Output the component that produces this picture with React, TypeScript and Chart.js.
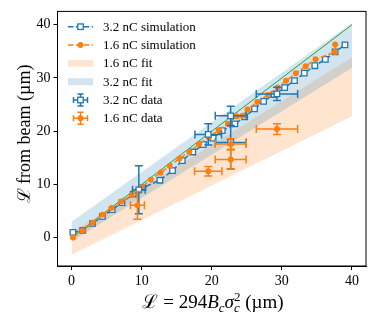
import React, { useEffect, useRef } from 'react';
import { Chart, registerables } from 'chart.js';
Chart.register(...registerables);

// ---- data ----
const xTicks = [0, 10, 20, 30, 40];
const yTicks = [0, 10, 20, 30, 40];

const fitX = [0, 40];
const fit16Low = [-3.2, 22.8];
const fit16High = [1.0, 33.9];
const fit32Low = [-0.7, 31.9];
const fit32High = [3.0, 40.3];

const identityX = [0, 40];
const identityY = [0, 40];

const sim32X = [0.2, 1.6, 3.0, 4.4, 5.8, 7.2, 8.8, 10.2, 12.6, 14.4, 15.8, 17.3, 18.8, 20.2, 21.5, 23.3, 24.7, 26.1, 27.4, 28.9, 30.4, 31.8, 33.2, 34.7, 36.2, 37.6, 39.0];
const sim32Y = [1.0, 1.4, 2.7, 4.0, 5.3, 6.6, 8.2, 9.4, 10.8, 12.6, 14.5, 16.1, 17.5, 18.7, 20.1, 21.4, 22.7, 24.2, 25.6, 26.9, 28.2, 29.5, 30.9, 32.3, 33.5, 34.9, 36.2];

const sim16X = [0.2, 1.6, 3.0, 4.4, 5.7, 7.1, 8.6, 10.0, 11.3, 12.7, 14.0, 15.4, 16.8, 18.2, 19.6, 21.0, 22.3, 23.6, 24.4, 25.1, 26.5, 28.0, 29.4, 30.6, 32.0, 33.4, 34.8, 37.6, 37.6];
const sim16Y = [0.05, 1.35, 2.8, 4.3, 5.6, 6.8, 8.0, 9.5, 10.9, 12.2, 13.5, 14.9, 16.1, 17.6, 18.9, 20.2, 21.4, 22.8, 22.9, 24.1, 25.5, 26.8, 28.2, 29.5, 30.9, 32.2, 33.5, 34.9, 36.3];

const data32X = [9.6, 19.5, 22.7, 22.7, 29.3];
const data32Y = [9.0, 19.4, 22.9, 17.9, 27.0];
const data32XErr = [0.9, 1.9, 2.2, 2.2, 2.95];
const data32YErr = [4.5, 2.0, 1.8, 5.0, 1.25];

const data16X = [9.4, 19.5, 22.7, 22.7, 29.3];
const data16Y = [6.1, 12.5, 17.6, 14.7, 20.4];
const data16XErr = [1.0, 1.95, 2.2, 2.2, 2.95];
const data16YErr = [2.6, 0.9, 1.0, 1.8, 1.0];

const legendLabels = ['3.2 nC simulation', '1.6 nC simulation', '1.6 nC fit', '3.2 nC fit', '3.2 nC data', '1.6 nC data'];

const BLUE = '#1f77b4';
const ORANGE = '#ff7f0e';
const GREEN = '#2ca02c';
const BLUE_FILL = 'rgba(31,119,180,0.2)';
const ORANGE_FILL = 'rgba(255,127,14,0.2)';
const FONT = '"Liberation Serif", "DejaVu Serif", serif';

const pts = (xs: number[], ys: number[]) => xs.map((x, i) => ({ x, y: ys[i] }));

function drawSquare(ctx: CanvasRenderingContext2D, x: number, y: number, s: number, color: string) {
  ctx.fillStyle = '#fff';
  ctx.strokeStyle = color;
  ctx.lineWidth = 1.3;
  ctx.fillRect(x - s / 2, y - s / 2, s, s);
  ctx.strokeRect(x - s / 2, y - s / 2, s, s);
}
function drawDot(ctx: CanvasRenderingContext2D, x: number, y: number, r: number, color: string) {
  ctx.fillStyle = color;
  ctx.beginPath();
  ctx.arc(x, y, r, 0, Math.PI * 2);
  ctx.fill();
}
function drawErr(ctx: CanvasRenderingContext2D, x0: number, x1: number, y: number, y0: number, y1: number, x: number, color: string, cap: number) {
  ctx.strokeStyle = color;
  ctx.lineWidth = 1.5;
  ctx.beginPath();
  ctx.moveTo(x0, y); ctx.lineTo(x1, y);
  ctx.moveTo(x0, y - cap); ctx.lineTo(x0, y + cap);
  ctx.moveTo(x1, y - cap); ctx.lineTo(x1, y + cap);
  ctx.moveTo(x, y0); ctx.lineTo(x, y1);
  ctx.moveTo(x - cap, y0); ctx.lineTo(x + cap, y0);
  ctx.moveTo(x - cap, y1); ctx.lineTo(x + cap, y1);
  ctx.stroke();
}

const errorBarPlugin = {
  id: 'errorBars',
  beforeDatasetDraw(chart: any, args: any) {
    const ds = chart.data.datasets[args.index];
    if (!ds.errX) return;
    const ctx = chart.ctx as CanvasRenderingContext2D;
    const xs = chart.scales.x, ys = chart.scales.y;
    ctx.save();
    ds.data.forEach((p: any, i: number) => {
      const px = xs.getPixelForValue(p.x);
      const py = ys.getPixelForValue(p.y);
      drawErr(
        ctx,
        xs.getPixelForValue(p.x - ds.errX[i]),
        xs.getPixelForValue(p.x + ds.errX[i]),
        py,
        ys.getPixelForValue(p.y + ds.errY[i]),
        ys.getPixelForValue(p.y - ds.errY[i]),
        px,
        ds.borderColor,
        4
      );
    });
    ctx.restore();
  },
};

const decorPlugin = {
  id: 'decor',
  afterDraw(chart: any) {
    const ctx = chart.ctx as CanvasRenderingContext2D;
    const a = chart.chartArea;
    ctx.save();
    // frame
    ctx.strokeStyle = '#000';
    ctx.lineWidth = 1;
    ctx.strokeRect(a.left, a.top, a.right - a.left, a.bottom - a.top);

    // y title
    ctx.save();
    ctx.translate(30, 134);
    ctx.rotate(-Math.PI / 2);
    ctx.fillStyle = '#000';
    ctx.font = `18px ${FONT}`;
    ctx.textAlign = 'center';
    ctx.textBaseline = 'alphabetic';
    ctx.fillText('\u2112 from beam (\u00b5m)', 0, 0);
    ctx.restore();

    // x title
    const size = 19, small = 13;
    type Piece = { t: string; f: string; dy: number; adv: boolean };
    const pieces: Piece[] = [
      { t: '\u2112 = 294', f: `${size}px ${FONT}`, dy: 0, adv: true },
      { t: 'B', f: `italic ${size}px ${FONT}`, dy: 0, adv: true },
      { t: 'c', f: `italic ${small}px ${FONT}`, dy: 4, adv: true },
      { t: '\u03c3', f: `italic ${size}px ${FONT}`, dy: 0, adv: true },
      { t: 'c', f: `italic ${small}px ${FONT}`, dy: 4, adv: false },
      { t: '2', f: `${small}px ${FONT}`, dy: -7, adv: true },
      { t: ' (\u00b5m)', f: `${size}px ${FONT}`, dy: 0, adv: true },
    ];
    let total = 0;
    let pending = 0;
    const widths = pieces.map((p) => { ctx.font = p.f; return ctx.measureText(p.t).width; });
    pieces.forEach((p, i) => {
      if (p.adv) { total += Math.max(widths[i], pending); pending = 0; } else { pending = widths[i]; }
    });
    let x = 213 - total / 2;
    const base = 307.5;
    ctx.fillStyle = '#000';
    ctx.textAlign = 'left';
    ctx.textBaseline = 'alphabetic';
    pending = 0;
    pieces.forEach((p, i) => {
      ctx.font = p.f;
      ctx.fillText(p.t, x, base + p.dy);
      if (p.adv) { x += Math.max(widths[i], pending); pending = 0; } else { pending = widths[i]; }
    });

    // legend
    const rows = [26.7, 45, 63.3, 81.7, 100, 118.3];
    const hx0 = 68, hx1 = 93, hc = 80.5, tx = 103;
    ctx.lineWidth = 1.5;
    ctx.setLineDash([5.5, 2.4]);
    ctx.strokeStyle = BLUE;
    ctx.beginPath(); ctx.moveTo(hx0, rows[0]); ctx.lineTo(hx1, rows[0]); ctx.stroke();
    ctx.strokeStyle = ORANGE;
    ctx.beginPath(); ctx.moveTo(hx0, rows[1]); ctx.lineTo(hx1, rows[1]); ctx.stroke();
    ctx.setLineDash([]);
    drawSquare(ctx, hc, rows[0], 5.5, BLUE);
    drawDot(ctx, hc, rows[1], 3, ORANGE);
    ctx.fillStyle = ORANGE_FILL;
    ctx.fillRect(hx0, rows[2] - 3.5, hx1 - hx0, 7);
    ctx.fillStyle = BLUE_FILL;
    ctx.fillRect(hx0, rows[3] - 3.5, hx1 - hx0, 7);
    drawErr(ctx, hc - 7, hc + 7, rows[4], rows[4] - 6, rows[4] + 6, hc, BLUE, 3);
    drawSquare(ctx, hc, rows[4], 5.5, BLUE);
    drawErr(ctx, hc - 7, hc + 7, rows[5], rows[5] - 6, rows[5] + 6, hc, ORANGE, 3);
    drawDot(ctx, hc, rows[5], 3, ORANGE);
    ctx.fillStyle = '#000';
    ctx.font = `13px ${FONT}`;
    ctx.textAlign = 'left';
    ctx.textBaseline = 'middle';
    legendLabels.forEach((l, i) => ctx.fillText(l, tx, rows[i] + 0.5));
    ctx.restore();
  },
};

export default function App() {
  const ref = useRef<HTMLCanvasElement>(null);
  useEffect(() => {
    const canvas = ref.current!;
    const hidden = { showLine: true, borderWidth: 0, borderColor: 'rgba(0,0,0,0)', pointRadius: 0 };
    const chart = new Chart(canvas, {
      type: 'scatter',
      data: {
        datasets: [
          { ...hidden, data: pts(fitX, fit16Low), fill: false, order: 20 },
          { ...hidden, data: pts(fitX, fit16High), fill: '-1', backgroundColor: ORANGE_FILL, order: 19 },
          { ...hidden, data: pts(fitX, fit32Low), fill: false, order: 18 },
          { ...hidden, data: pts(fitX, fit32High), fill: '-1', backgroundColor: BLUE_FILL, order: 17 },
          { data: pts(identityX, identityY), showLine: true, borderColor: GREEN, borderWidth: 1, pointRadius: 0, order: 16 },
          {
            data: pts(sim32X, sim32Y), showLine: true, borderColor: BLUE, borderWidth: 1.5, borderDash: [5.5, 2.4],
            pointStyle: 'rect', pointRadius: 3.9, pointBackgroundColor: '#fff', pointBorderColor: BLUE, pointBorderWidth: 1.3, order: 15,
          },
          {
            data: pts(sim16X, sim16Y), showLine: true, borderColor: ORANGE, borderWidth: 1.5, borderDash: [5.5, 2.4],
            pointStyle: 'circle', pointRadius: 3, pointBackgroundColor: ORANGE, pointBorderColor: ORANGE, pointBorderWidth: 0, order: 14,
          },
          {
            data: pts(data32X, data32Y), showLine: false, borderColor: BLUE, errX: data32XErr, errY: data32YErr,
            pointStyle: 'rect', pointRadius: 3.9, pointBackgroundColor: '#fff', pointBorderColor: BLUE, pointBorderWidth: 1.3, order: 13,
          } as any,
          {
            data: pts(data16X, data16Y), showLine: false, borderColor: ORANGE, errX: data16XErr, errY: data16YErr,
            pointStyle: 'circle', pointRadius: 3, pointBackgroundColor: ORANGE, pointBorderColor: ORANGE, pointBorderWidth: 0, order: 12,
          } as any,
        ],
      },
      options: {
        animation: false,
        responsive: false,
        devicePixelRatio: 1,
        layout: { padding: { top: 9, right: 20, left: 0, bottom: 0 } },
        plugins: { legend: { display: false }, tooltip: { enabled: false } },
        scales: {
          x: {
            type: 'linear', min: -2, max: 42,
            afterBuildTicks: (s: any) => { s.ticks = xTicks.map((v) => ({ value: v })); },
            afterFit: (s: any) => { s.height = 56; },
            grid: { drawOnChartArea: false, drawTicks: true, tickLength: 4, color: '#000', lineWidth: 1 },
            border: { display: true, color: '#000', width: 1 },
            ticks: { font: { family: FONT, size: 14 }, color: '#000', padding: 3, maxRotation: 0 },
          },
          y: {
            type: 'linear', min: -5.3, max: 42.5,
            afterBuildTicks: (s: any) => { s.ticks = yTicks.map((v) => ({ value: v })); },
            afterFit: (s: any) => { s.width = 57.5; },
            grid: { drawOnChartArea: false, drawTicks: true, tickLength: 4, color: '#000', lineWidth: 1 },
            border: { display: true, color: '#000', width: 1 },
            ticks: { font: { family: FONT, size: 14 }, color: '#000', padding: 3 },
          },
        },
      } as any,
      plugins: [errorBarPlugin, decorPlugin],
    });
    return () => chart.destroy();
  }, []);
  return (
    <div style={{ position: 'fixed', left: 0, top: 0, width: 386, height: 322, background: '#fff' }}>
      <canvas ref={ref} width={386} height={322} style={{ width: 386, height: 322, display: 'block' }} />
    </div>
  );
}
